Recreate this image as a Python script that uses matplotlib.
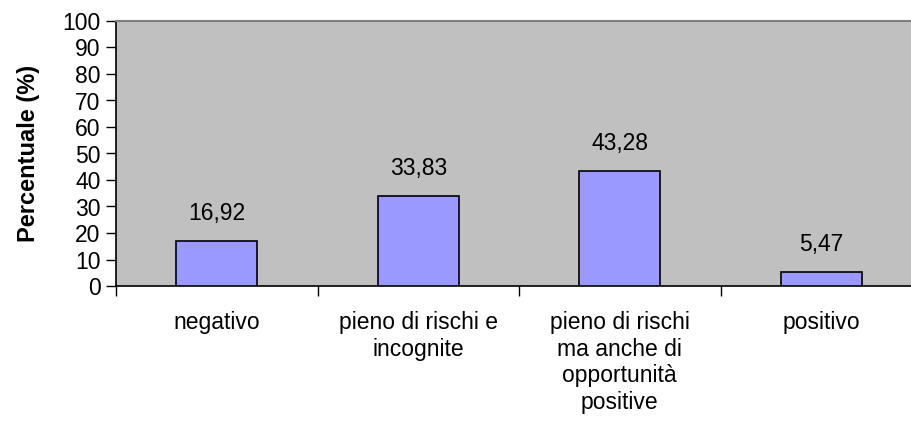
import matplotlib.pyplot as plt

plt.rcParams['font.family'] = ['Liberation Sans', 'DejaVu Sans']

categories = ["negativo", "pieno di rischi e\nincognite",
              "pieno di rischi\nma anche di\nopportunità\npositive", "positivo"]
values = [16.92, 33.83, 43.28, 5.47]
labels = ["16,92", "33,83", "43,28", "5,47"]

fs = 16.5

fig = plt.figure(figsize=(9.12, 4.4), dpi=100)
# plot area runs a little past the right edge, as in the original
ax = fig.add_axes([116 / 912, 1 - 286 / 440, 806 / 912, 265 / 440])
ax.set_facecolor('#C0C0C0')

x = range(len(values))
ax.bar(x, values, width=0.4, color='#9999FF', edgecolor='black', linewidth=1.2, zorder=3)
for xi, v, lab in zip(x, values, labels):
    ax.text(xi, v + 6, lab, ha='center', va='bottom', fontsize=fs)

ax.set_xlim(-0.5, len(values) - 0.5)
ax.set_ylim(0, 100)
ax.set_yticks(range(0, 101, 10))
ax.tick_params(axis='y', labelsize=fs, length=7, width=1, pad=4)

# category labels between boundary ticks
ax.set_xticks([i + 0.5 for i in range(len(values) - 1)] + [-0.5])
ax.set_xticklabels([])
ax.tick_params(axis='x', length=7, width=1, direction='out')
for xi, c in zip(x, categories):
    ax.text(xi, -9.5, c, ha='center', va='top', fontsize=fs, linespacing=1.2,
            transform=ax.transData, clip_on=False)

ax.set_ylabel("Percentuale (%)", fontsize=17, fontweight='bold', labelpad=16)

for s in ['left', 'bottom']:
    ax.spines[s].set_color('black')
    ax.spines[s].set_linewidth(1.2)
ax.spines['top'].set_color('#808080')
ax.spines['top'].set_linewidth(1.5)
ax.spines['right'].set_visible(False)

fig.savefig('out.png', dpi=100)
